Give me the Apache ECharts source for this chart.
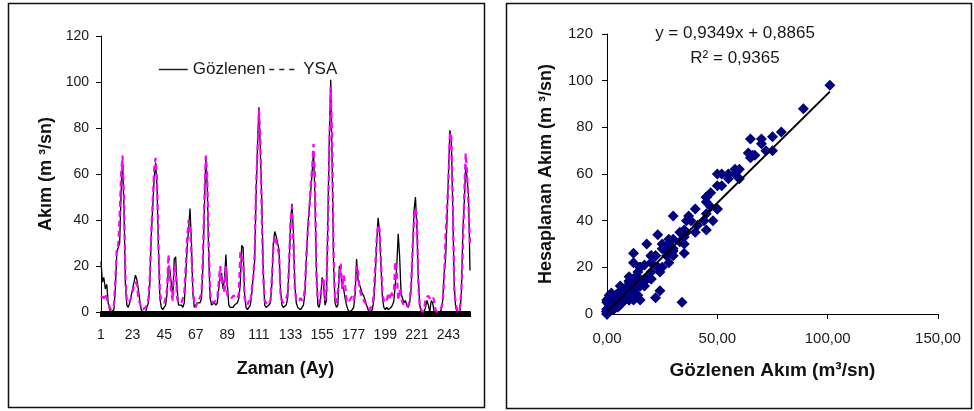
<!DOCTYPE html>
<html><head><meta charset="utf-8">
<script src="https://cdn.jsdelivr.net/npm/echarts@6/dist/echarts.min.js"></script>
<style>html,body{margin:0;padding:0;background:#fff}#c{width:974px;height:411px}</style>
</head><body><div id="c"></div>
<script>
// Observed monthly flow (Gözlenen), m3/s
const obs = [
22,13,15,10,12,4,1,0,0,1,
10,26,28,30,52,66,45,12,3,2,
4,7,10,13,16,14,10,5,1,0,
0,0,2,4,12,33,45,58,65,55,
28,6,2,1,2,3,8,20,18,12,
6,23,24,10,3,3,3,2,4,15,
28,36,45,30,8,2,3,4,4,4,
6,20,45,67,55,25,6,3,3,4,
3,4,10,15,17,10,14,25,12,3,
2,2,2,3,3,4,6,12,29,28,
8,2,1,2,3,8,15,22,50,72,
89,70,48,18,3,2,2,3,4,12,
30,35,33,30,27,10,3,2,2,3,
6,20,38,47,35,12,4,2,2,1,
2,3,8,22,36,45,52,60,70,50,
20,3,2,6,15,12,3,5,40,75,
101,65,20,4,2,3,20,17,12,10,
6,3,1,0,0,1,2,8,23,14,
12,10,8,7,5,3,1,0,0,1,
5,15,30,41,35,20,6,2,1,2,
1,1,2,3,5,12,20,34,24,8,
6,4,5,3,2,4,10,25,44,50,
37,15,3,0,0,0,2,5,3,0,
5,4,0,0,0,0,0,1,5,17,
23,40,60,79,75,45,12,2,0,0,
0,8,35,47,64,58,50,18
];
// Model output (YSA), m3/s
const ysa = [
7,7,6,8,6,4,2,1,1,3,
14,28,29,42,60,68,50,15,5,4,
5,6,9,11,13,12,6,4,2,1,
1,2,3,6,15,35,48,62,67,58,
30,8,5,5,4,6,10,25,15,8,
5,20,18,6,4,4,4,4,8,20,
32,40,36,25,10,4,2,4,5,5,
8,25,50,68,60,30,8,5,4,4,
5,6,13,20,12,14,8,20,7,7,
7,6,7,7,7,6,8,26,26,22,
6,4,3,5,4,10,15,25,55,70,
88,75,40,15,5,4,3,4,5,15,
27,33,31,28,25,8,5,4,5,6,
8,22,40,46,30,10,5,5,5,6,
5,6,10,25,35,43,55,62,73,60,
15,5,4,8,12,15,5,8,35,70,
98,75,25,5,4,4,15,21,10,16,
12,5,4,5,6,7,5,10,20,18,
10,8,6,5,4,3,2,1,2,3,
8,20,32,38,36,22,8,5,4,5,
8,6,9,7,9,22,18,5,10,6,
4,3,3,2,3,5,12,28,40,45,
42,12,2,1,0,1,6,6,7,6,
6,7,5,1,0,0,1,2,4,15,
34,45,58,78,76,50,10,4,1,0,
2,10,26,52,69,60,45,30
];
const months = obs.map((_, i) => String(i + 1));
const seriesNames = ['Gözlenen', 'YSA'];
const slope = 0.9349, intercept = 0.8865, r2 = 0.9365;

const FONT = 'Liberation Sans, Arial, sans-serif';
const fmtComma = (v, d) => v.toFixed(d).replace('.', ',');
const pairs = obs.map((o, i) => [o, ysa[i]]);
const xMin = Math.min(...obs), xMax = Math.max(...obs);
const trend = [[xMin, slope * xMin + intercept], [xMax, slope * xMax + intercept]];

const chart = echarts.init(document.getElementById('c'), null, {renderer: 'canvas'});
const axisCommon = {
  axisLine: {show: true, lineStyle: {color: '#000', width: 1}},
  axisTick: {show: true, length: 5, lineStyle: {color: '#000'}},
  splitLine: {show: false},
  nameLocation: 'middle',
};
const hiddenSymbol = {color: 'rgba(0,0,0,0)', borderColor: 'rgba(0,0,0,0)', borderWidth: 0, opacity: 0};
chart.setOption({
  animation: false,
  backgroundColor: '#fff',
  textStyle: {fontFamily: FONT},
  grid: [
    {left: 101, top: 36, width: 369, height: 276},
    {left: 607, top: 34, width: 331, height: 280}
  ],
  legend: {
    left: 153, top: 56, itemWidth: 29, itemHeight: 14, itemGap: 3,
    textStyle: {fontSize: 17, color: '#1a1a1a', fontFamily: FONT},
    itemStyle: hiddenSymbol,
    data: [
      {name: seriesNames[0], itemStyle: hiddenSymbol, lineStyle: {color: '#222', width: 1.5}},
      {name: seriesNames[1], itemStyle: hiddenSymbol, lineStyle: {color: '#222', type: [5, 5], width: 1.5}}
    ]
  },
  xAxis: [
    Object.assign({}, axisCommon, {
      type: 'category', gridIndex: 0, data: months, boundaryGap: false,
      axisLine: {show: true, lineStyle: {color: '#000', width: 2}},
      axisTick: {show: true, interval: 0, length: 5, lineStyle: {color: '#000', width: 2}},
      axisLabel: {interval: 21, margin: 16, fontSize: 14, color: '#1a1a1a', fontFamily: FONT},
      name: 'Zaman (Ay)', nameGap: 48,
      nameTextStyle: {fontWeight: 'bold', fontSize: 18, color: '#111', fontFamily: FONT}
    }),
    Object.assign({}, axisCommon, {
      type: 'value', gridIndex: 1, min: 0, max: 150, interval: 50,
      axisLabel: {margin: 17, fontSize: 15, color: '#1a1a1a', fontFamily: FONT,
        formatter: v => fmtComma(v, 2)},
      name: 'Gözlenen Akım (m³/sn)', nameGap: 47,
      nameTextStyle: {fontWeight: 'bold', fontSize: 19, color: '#111', fontFamily: FONT}
    })
  ],
  yAxis: [
    Object.assign({}, axisCommon, {
      type: 'value', gridIndex: 0, min: 0, max: 120, interval: 20,
      axisLabel: {margin: 12, fontSize: 14, color: '#1a1a1a', fontFamily: FONT},
      name: 'Akım (m ³/sn)', nameGap: 46, nameRotate: 90,
      nameTextStyle: {fontWeight: 'bold', fontSize: 18, color: '#111', fontFamily: FONT}
    }),
    Object.assign({}, axisCommon, {
      type: 'value', gridIndex: 1, min: 0, max: 120, interval: 20,
      axisLabel: {margin: 14, fontSize: 15, color: '#1a1a1a', fontFamily: FONT},
      name: 'Hesaplanan Akım (m ³/sn)', nameGap: 52, nameRotate: 90,
      nameTextStyle: {fontWeight: 'bold', fontSize: 18, color: '#111', fontFamily: FONT}
    })
  ],
  series: [
    {name: seriesNames[0], type: 'line', xAxisIndex: 0, yAxisIndex: 0, data: obs,
     symbol: 'none', lineStyle: {color: '#000', width: 1.3}, itemStyle: {color: '#000'}, z: 2},
    {name: seriesNames[1], type: 'line', xAxisIndex: 0, yAxisIndex: 0, data: ysa,
     symbol: 'none', lineStyle: {color: '#ff00ff', width: 2.2, type: [6, 4]}, itemStyle: {color: '#ff00ff'}, z: 3},
    {name: 'scatter', type: 'scatter', xAxisIndex: 1, yAxisIndex: 1, data: pairs,
     symbol: 'diamond', symbolSize: 11, itemStyle: {color: '#000080', opacity: 1}, z: 3},
    {name: 'trend', type: 'line', xAxisIndex: 1, yAxisIndex: 1, data: trend,
     symbol: 'none', lineStyle: {color: '#000', width: 2}, z: 5}
  ],
  graphic: [
    {type: 'rect', shape: {x: 8.5, y: 3.5, width: 476, height: 404},
     style: {fill: 'none', stroke: '#111', lineWidth: 1.5}, silent: true},
    {type: 'rect', shape: {x: 506.5, y: 3.5, width: 465, height: 405},
     style: {fill: 'none', stroke: '#111', lineWidth: 1.5}, silent: true},
    {type: 'text', style: {x: 735, y: 33, text: 'y = ' + fmtComma(slope, 4) + 'x + ' + fmtComma(intercept, 4),
      textAlign: 'center', textVerticalAlign: 'middle', align: 'center', verticalAlign: 'middle',
      fontSize: 17, fontFamily: FONT, fill: '#1a1a1a'}},
    {type: 'text', style: {x: 735, y: 58, text: 'R² = ' + fmtComma(r2, 4),
      textAlign: 'center', textVerticalAlign: 'middle', align: 'center', verticalAlign: 'middle',
      fontSize: 17, fontFamily: FONT, fill: '#1a1a1a'}}
  ]
});
</script>
</body></html>
